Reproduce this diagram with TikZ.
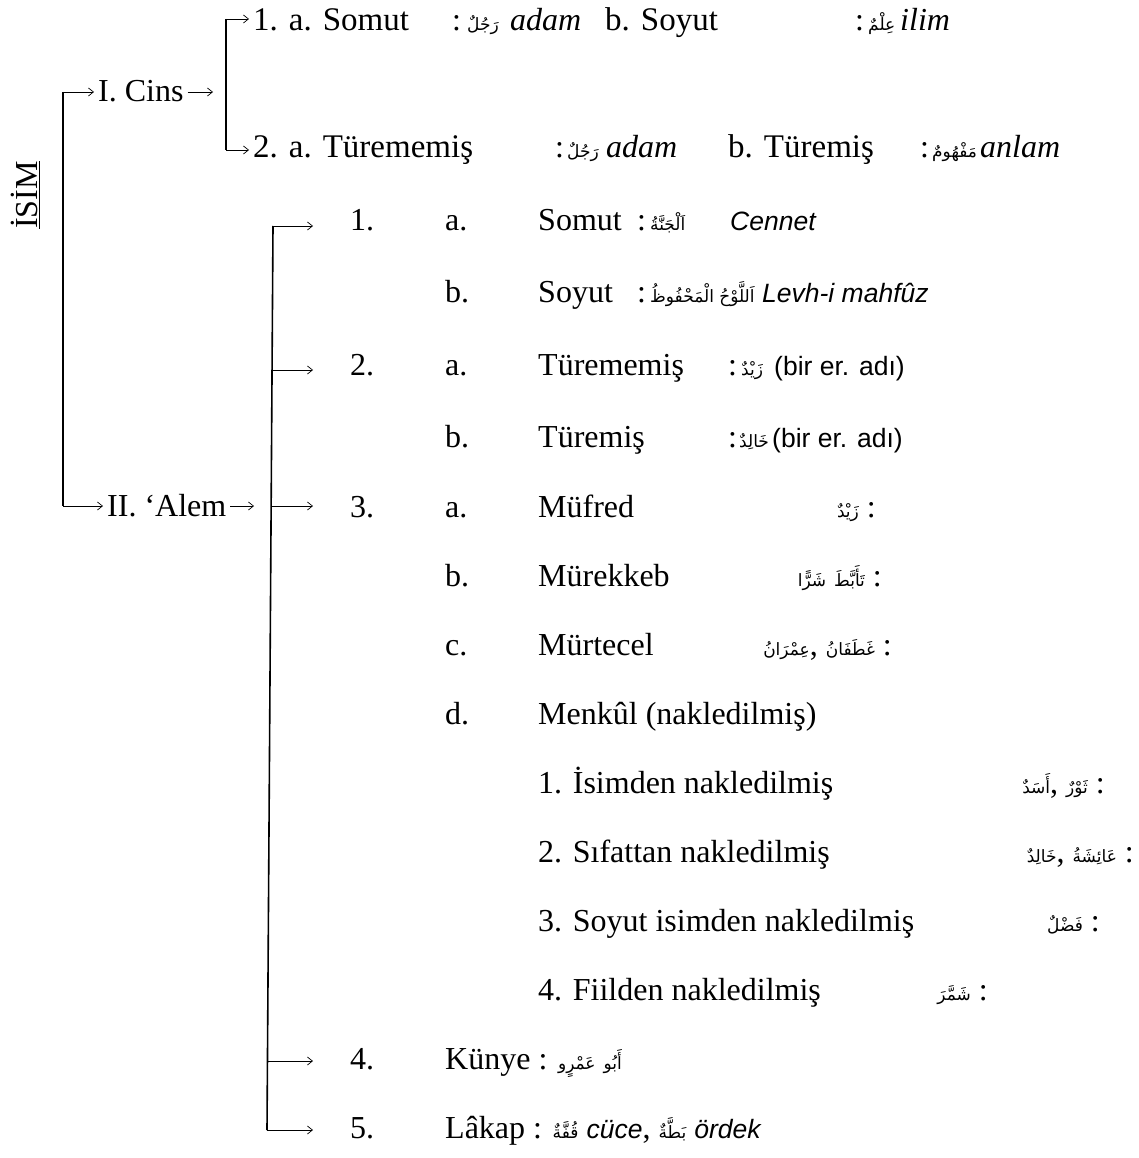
\documentclass[tikz,border=0pt]{standalone}
\usepackage{fontspec}
\setmainfont{Liberation Serif}
\newfontfamily\arabicfont[Script=Arabic]{DejaVu Sans}
\newfontfamily\glossfont{Liberation Sans}
\TeXXeTstate=1
\usetikzlibrary{arrows.meta}

% one Arabic word, set right to left in its own box
\newcommand\arw[1]{\hbox{\arabicfont\fontsize{17}{22}\selectfont\beginR #1\endR}}
% sans-serif glosses
\newcommand\glsit[1]{{\glossfont\itshape\fontsize{26.5}{32}\selectfont #1}}
\newcommand\glsup[1]{{\glossfont\fontsize{26.5}{32}\selectfont #1}}

\begin{document}
\begin{tikzpicture}[x=1pt,y=-1pt,
  every node/.style={font=\fontsize{32}{38}\selectfont},
  txtw/.style={anchor=base west,inner sep=0pt},
  txte/.style={anchor=base east,inner sep=0pt},
  lbl/.style={anchor=base west,inner xsep=4pt,inner ysep=0pt,text height=20pt,text depth=0pt},
  bar/.style={line width=1.6pt},
  arr/.style={line width=0.7pt,-{Straight Barb[length=5pt,width=8pt,line width=0.7pt]}}]
\useasboundingbox (0,0) rectangle (1138,1158);

% ---------- root ----------
\node[rotate=90,inner sep=0pt] (isim) at (25,195) {\underline{İSİM}};
\node[lbl] (cins) at (94,102) {I. Cins};
\node[lbl] (alem) at (103,516) {II. ‘Alem};
\coordinate (r0t) at (63,92);
\coordinate (r0b) at (63,506);
\draw[bar] (r0t) -- (r0b);
\draw[arr] (r0t) -- (cins.west);
\draw[arr] (r0b) -- (alem.west);

% ---------- I. Cins ----------
\coordinate (cinsout) at (213,92);
\draw[arr] (cins.east) -- (cinsout);
\coordinate (r1t) at (226,19);
\coordinate (r1b) at (226,150);
\draw[bar] (r1t) -- (r1b);
\node[lbl,text height=24pt,font=\fontsize{33}{38}\selectfont] (c1) at (249,31) {1. a. Somut};
\node[lbl,text height=16pt,font=\fontsize{33}{38}\selectfont] (c2) at (249,158) {2. a. Türememiş};
\draw[arr] (r1t) -- (c1.west);
\draw[arr] (r1b) -- (c2.west);

\node[txtw] (c1col) at (452,31) {:};
\node[txtw] (c1ar) at (467,31) {\arw{رَجُلٌ}};
\node[txtw] (c1gl) at (510,31) {\textit{adam}};
\node[txtw,font=\fontsize{33}{38}\selectfont] (c1b) at (605,31) {b. Soyut};
\node[txtw] (c1bcol) at (855,31) {:};
\node[txtw] (c1bar) at (868,31) {\arw{عِلْمٌ}};
\node[txtw] (c1bgl) at (900,31) {\textit{ilim}};

\node[txtw] (c2col) at (555,158) {:};
\node[txtw] (c2ar) at (567,158) {\arw{رَجُلٌ}};
\node[txtw] (c2gl) at (606,158) {\textit{adam}};
\node[txtw,font=\fontsize{33}{38}\selectfont] (c2b) at (728,158) {b. Türemiş};
\node[txtw] (c2bcol) at (920,158) {:};
\node[txtw] (c2bar) at (932,158) {\arw{مَفْهُومٌ}};
\node[txtw] (c2bgl) at (980,158) {\textit{anlam}};

% ---------- II. Alem ----------
\coordinate (alemout) at (254,506);
\draw[arr] (alem.east) -- (alemout);
\coordinate (r2t) at (273,226);
\coordinate (r2b) at (267,1130);
\draw[bar] (r2t) -- (r2b);
\coordinate (r2s2) at (272,370);
\coordinate (r2s3) at (271,506);
\coordinate (r2s4) at (267.5,1061);
\coordinate (p1) at (313,226);
\coordinate (p2) at (313,370);
\coordinate (p3) at (313,506);
\coordinate (p4) at (313,1061);
\coordinate (p5) at (313,1130);
\draw[arr] (r2t) -- (p1);
\draw[arr] (r2s2) -- (p2);
\draw[arr] (r2s3) -- (p3);
\draw[arr] (r2s4) -- (p4);
\draw[arr] (r2b) -- (p5);

% 1. Somut / Soyut
\node[txtw] (n1) at (350,231) {1.};
\node[txtw] (n1a) at (445,231) {a.};
\node[txtw] (n1at) at (538,231) {Somut};
\node[txtw] (n1ac) at (637,231) {:};
\node[txtw] (n1aar) at (650,231) {\arw{اَلْجَنَّةُ}};
\node[txtw] (n1agl) at (730,231) {\glsit{Cennet}};
\node[txtw] (n1b) at (445,302) {b.};
\node[txtw] (n1bt) at (538,302) {Soyut};
\node[txtw] (n1bc) at (637,302) {:};
\node[txtw] (n1bar) at (650,302) {\arw{الْمَحْفُوظُ}\,\arw{اَللَّوْحُ}};
\node[txtw] (n1bgl) at (762,302) {\glsit{Levh-i mahfûz}};

% 2. Türememiş / Türemiş
\node[txtw] (n2) at (350,375) {2.};
\node[txtw] (n2a) at (445,375) {a.};
\node[txtw] (n2at) at (538,375) {Türememiş};
\node[txtw] (n2ac) at (728,375) {:};
\node[txtw] (n2aar) at (741,375) {\arw{زَيْدٌ}};
\node[txtw] (n2agl) at (774,375) {\glsup{(bir er. adı)}};
\node[txtw] (n2b) at (445,447) {b.};
\node[txtw] (n2bt) at (538,447) {Türemiş};
\node[txtw] (n2bc) at (728,447) {:};
\node[txtw] (n2bar) at (739,447) {\arw{خَالِدٌ}};
\node[txtw] (n2bgl) at (772,447) {\glsup{(bir er. adı)}};

% 3. Müfred ... Menkûl
\node[txtw] (n3) at (350,517) {3.};
\node[txtw] (n3a) at (445,517) {a.};
\node[txtw] (n3at) at (538,517) {Müfred};
\node[txte] (n3aar) at (876,517) {\arw{زَيْدٌ} :};
\node[txtw] (n3b) at (445,586) {b.};
\node[txtw] (n3bt) at (538,586) {Mürekkeb};
\node[txte] (n3bar) at (882,586) {\arw{شَرًّا} \arw{تَأَبَّطَ} :};
\node[txtw] (n3c) at (445,655) {c.};
\node[txtw] (n3ct) at (538,655) {Mürtecel};
\node[txte] (n3car) at (892,655) {\arw{عِمْرَانُ}, \arw{غَطَفَانُ} :};
\node[txtw] (n3d) at (445,724) {d.};
\node[txtw] (n3dt) at (538,724) {Menkûl (nakledilmiş)};

\node[txtw] (m1) at (538,793) {1. İsimden nakledilmiş};
\node[txte] (m1ar) at (1105,793) {\arw{أَسَدٌ}, \arw{ثَوْرٌ} :};
\node[txtw] (m2) at (538,862) {2. Sıfattan nakledilmiş};
\node[txte] (m2ar) at (1134,862) {\arw{خَالِدٌ}, \arw{عَائِشَةُ} :};
\node[txtw] (m3) at (538,931) {3. Soyut isimden nakledilmiş};
\node[txte] (m3ar) at (1100,931) {\arw{فَضْلٌ} :};
\node[txtw] (m4) at (538,1000) {4. Fiilden nakledilmiş};
\node[txte] (m4ar) at (988,1000) {\arw{شَمَّرَ} :};

% 4. Künye, 5. Lâkap
\node[txtw] (n4) at (350,1069) {4.};
\node[txtw] (n4t) at (445,1069) {Künye : \arw{عَمْرٍو} \arw{أَبُو}};
\node[txtw] (n5) at (350,1138) {5.};
\node[txtw] (n5t) at (445,1138) {Lâkap : \arw{قُفَّةٌ} \glsit{cüce}, \arw{بَطَّةٌ} \glsit{ördek}};
\end{tikzpicture}
\end{document}
